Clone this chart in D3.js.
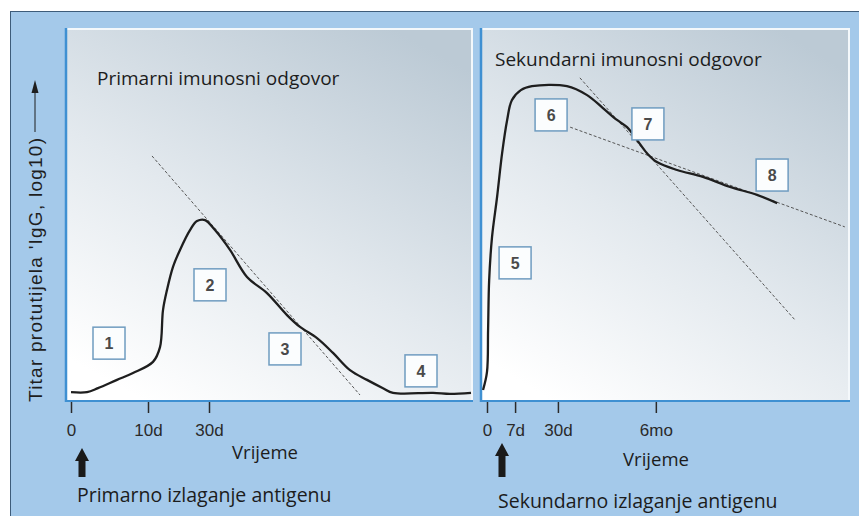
<!DOCTYPE html>
<html>
<head>
<meta charset="utf-8">
<script src="https://cdn.jsdelivr.net/npm/d3@7"></script>
<style>
body { margin: 0; background: #fff; }
svg { display: block; }
</style>
</head>
<body>
<div id="chart"></div>
<script>
const W = 859, H = 516;

// primarni odgovor: relativno vrijeme (0-100) i relativni titar (0-100)
const primaryTime  = [0, 4, 6.75, 11.5, 15.5, 20.5, 22.25, 23, 24, 25.5, 27.25, 29.75, 31.5, 33.5, 36, 39.75, 44, 49, 54, 57.25, 61.5, 65.5, 69.75, 74, 78, 80.5, 90.5, 94.75, 100];
const primaryTitre = [0.8, 0.8, 1.9, 4.2, 6.1, 9.2, 13.3, 23.6, 29.2, 35.6, 40.3, 45.8, 48.3, 48.6, 45.8, 40.3, 32.8, 28.3, 22.2, 18.9, 15.8, 11.7, 6.9, 4.2, 1.9, 0.6, 0.6, 0.3, 0.6];

// sekundarni odgovor
const secondaryTime  = [-1.1, 0, 0.3, 0.6, 1.4, 2.8, 4.2, 5.6, 6.9, 9.4, 12.5, 22.2, 27.8, 32.2, 36.1, 38.9, 41.7, 44.4, 47.2, 52.8, 60, 67.5, 75, 80.6];
const secondaryTitre = [1.4, 6.4, 18, 31.9, 43.9, 55, 67.2, 76.4, 81.9, 84.7, 85.8, 85.8, 83.3, 79.7, 76.4, 74.4, 70.8, 67.2, 64.7, 62.5, 60.6, 57.8, 55.6, 53.3];

// tick labels
const primaryTicks = [0, 19.25, 34.5];
const primaryTickLabels = ["0", "10d", "30d"];
const secondaryTicks = [0, 7.8, 19.7, 46.9];
const secondaryTickLabels = ["0", "7d", "30d", "6mo"];

// tangent (dashed) lines
const primaryTangentX = [20.25, 72.25];
const primaryTangentY = [66.4, 0];
const secondaryFastX = [25.8, 85.6];
const secondaryFastY = [88.1, 20.8];
const secondarySlowX = [23.1, 99.4];
const secondarySlowY = [74.4, 46.7];

// numbered phases
const primaryPhases = ["1", "2", "3", "4"];
const primaryPhaseX = [9.5, 34.75, 53.5, 87.5];
const primaryPhaseY = [14.4, 30.6, 12.8, 6.7];
const secondaryPhases = ["5", "6", "7", "8"];
const secondaryPhaseX = [7.8, 17.8, 44.7, 79.2];
const secondaryPhaseY = [36.7, 77.8, 75.3, 61.1];

const titleFont = "'Open Sans', sans-serif";
const tickFont = "'Liberation Sans', Arial, sans-serif";

var svg = d3.select("#chart")
	.append("svg")
	.attr("width", W)
	.attr("height", H);

var defs = svg.append("defs");
var grad = defs.append("linearGradient")
	.attr("id", "panelFill")
	.attr("x1", 0.2).attr("y1", 1)
	.attr("x2", 0.8).attr("y2", 0);
grad.append("stop").attr("offset", 0).attr("stop-color", "#ffffff");
grad.append("stop").attr("offset", 0.45).attr("stop-color", "#e3e9ee");
grad.append("stop").attr("offset", 1).attr("stop-color", "#bccad5");

// outer frame
svg.append("rect")
	.attr("x", 10.5).attr("y", 11.5)
	.attr("width", W).attr("height", H)
	.attr("fill", "#a4c9ea")
	.attr("stroke", "#3e5c7a")
	.attr("stroke-width", 1);

const y = d3.scaleLinear().domain([0, 100]).range([395, 35]);
const panelTop = 28, panelBottom = 402;

const panels = [
	{ x0: 65, x1: 473, x: d3.scaleLinear().domain([0, 100]).range([71, 471]),
	  time: primaryTime, titre: primaryTitre, ticks: primaryTicks, tickLabels: primaryTickLabels,
	  dashes: [[primaryTangentX, primaryTangentY]],
	  phases: primaryPhases, phaseX: primaryPhaseX, phaseY: primaryPhaseY,
	  title: "Primarni imunosni odgovor", titleX: 97, titleY: 85,
	  xLabelX: 265, xLabelY: 459, arrowDx: 11, arrowTop: 448,
	  caption: "Primarno izlaganje antigenu", captionX: 77, captionY: 502 },
	{ x0: 480, x1: 850, x: d3.scaleLinear().domain([0, 100]).range([487, 847]),
	  time: secondaryTime, titre: secondaryTitre, ticks: secondaryTicks, tickLabels: secondaryTickLabels,
	  dashes: [[secondaryFastX, secondaryFastY], [secondarySlowX, secondarySlowY]],
	  phases: secondaryPhases, phaseX: secondaryPhaseX, phaseY: secondaryPhaseY,
	  title: "Sekundarni imunosni odgovor", titleX: 495, titleY: 66,
	  xLabelX: 656, xLabelY: 466, arrowDx: 15, arrowTop: 443,
	  caption: "Sekundarno izlaganje antigenu", captionX: 498, captionY: 508 }
];

panels.forEach(function (p) {
	var g = svg.append("g");

	g.append("rect")
		.attr("x", p.x0).attr("y", panelTop)
		.attr("width", p.x1 - p.x0).attr("height", panelBottom - panelTop)
		.attr("fill", "url(#panelFill)");

	// light edges top / right, blue edges left / bottom
	g.append("line").attr("x1", p.x0).attr("x2", p.x1).attr("y1", panelTop + 1).attr("y2", panelTop + 1)
		.attr("stroke", "#f4f8fb").attr("stroke-width", 2);
	g.append("line").attr("x1", p.x1 - 1).attr("x2", p.x1 - 1).attr("y1", panelTop).attr("y2", panelBottom)
		.attr("stroke", "#f4f8fb").attr("stroke-width", 2);
	g.append("line").attr("x1", p.x0 + 1).attr("x2", p.x0 + 1).attr("y1", panelTop).attr("y2", panelBottom)
		.attr("stroke", "#3f90d2").attr("stroke-width", 2.5);
	g.append("line").attr("x1", p.x0).attr("x2", p.x1).attr("y1", panelBottom - 1).attr("y2", panelBottom - 1)
		.attr("stroke", "#3f90d2").attr("stroke-width", 2);

	// title
	g.append("text")
		.attr("x", p.titleX).attr("y", p.titleY)
		.attr("font-family", titleFont).attr("font-size", 19)
		.attr("fill", "#1c1c1c")
		.text(p.title);

	// dashed tangents
	p.dashes.forEach(function (d) {
		g.append("line")
			.attr("x1", p.x(d[0][0])).attr("y1", y(d[1][0]))
			.attr("x2", p.x(d[0][1])).attr("y2", y(d[1][1]))
			.attr("stroke", "#555")
			.attr("stroke-width", 1)
			.attr("stroke-dasharray", "3,2");
	});

	// titre curve
	var line = d3.line()
		.x(function (d, i) { return p.x(p.time[i]); })
		.y(function (d, i) { return y(p.titre[i]); })
		.curve(d3.curveCatmullRom.alpha(0.5));

	g.append("path")
		.datum(p.time)
		.attr("d", line)
		.attr("fill", "none")
		.attr("stroke", "#1e1e1e")
		.attr("stroke-width", 2.3)
		.attr("stroke-linejoin", "round");

	// numbered boxes
	var box = g.selectAll(".phase")
		.data(p.phases)
		.enter()
		.append("g")
		.attr("class", "phase")
		.attr("transform", function (d, i) { return "translate(" + p.x(p.phaseX[i]) + "," + y(p.phaseY[i]) + ")"; });

	box.append("rect")
		.attr("x", -16).attr("y", -16)
		.attr("width", 32).attr("height", 32)
		.attr("fill", "#fbfdfe")
		.attr("stroke", "#6f9cc0")
		.attr("stroke-width", 1.5);

	box.append("text")
		.attr("text-anchor", "middle")
		.attr("dy", "0.36em")
		.attr("font-family", tickFont)
		.attr("font-size", 16)
		.attr("font-weight", "bold")
		.attr("fill", "#4a4a4a")
		.text(function (d) { return d; });

	// time axis
	var axis = d3.axisBottom(p.x)
		.tickValues(p.ticks)
		.tickFormat(function (d, i) { return p.tickLabels[i]; })
		.tickSizeInner(11)
		.tickSizeOuter(0)
		.tickPadding(11);

	var ax = g.append("g")
		.attr("transform", "translate(0," + panelBottom + ")")
		.call(axis);
	ax.select(".domain").remove();
	ax.selectAll(".tick line").attr("stroke", "#2a2a2a").attr("stroke-width", 1.5);
	ax.selectAll(".tick text")
		.attr("font-family", tickFont)
		.attr("font-size", 17)
		.attr("fill", "#2a2a2a");

	g.append("text")
		.attr("x", p.xLabelX).attr("y", p.xLabelY)
		.attr("text-anchor", "middle")
		.attr("font-family", titleFont).attr("font-size", 18.5)
		.attr("fill", "#1c1c1c")
		.text("Vrijeme");

	// exposure arrow at time 0
	var ax0 = p.x(0) + p.arrowDx, at = p.arrowTop, ab = 477;
	g.append("path")
		.attr("d", "M" + ax0 + "," + at +
			" L" + (ax0 + 7) + "," + (at + 13) +
			" L" + (ax0 + 3.5) + "," + (at + 13) +
			" L" + (ax0 + 3.5) + "," + ab +
			" L" + (ax0 - 3.5) + "," + ab +
			" L" + (ax0 - 3.5) + "," + (at + 13) +
			" L" + (ax0 - 7) + "," + (at + 13) + " Z")
		.attr("fill", "#1a1a1a");

	g.append("text")
		.attr("x", p.captionX).attr("y", p.captionY)
		.attr("font-family", titleFont).attr("font-size", 19.5)
		.attr("fill", "#1c1c1c")
		.text(p.caption);
});

// y axis label with arrow
svg.append("text")
	.attr("transform", "translate(42,402) rotate(-90)")
	.attr("font-family", tickFont)
	.attr("font-size", 19)
	.attr("textLength", 264)
	.attr("lengthAdjust", "spacing")
	.attr("fill", "#1e1e1e")
	.text("Titar protutijela 'IgG, log10)");

svg.append("line")
	.attr("x1", 35).attr("x2", 35)
	.attr("y1", 132).attr("y2", 92)
	.attr("stroke", "#1e1e1e").attr("stroke-width", 1);
svg.append("path")
	.attr("d", "M35,80 L38.5,93 L31.5,93 Z")
	.attr("fill", "#1e1e1e");
</script>
</body>
</html>
